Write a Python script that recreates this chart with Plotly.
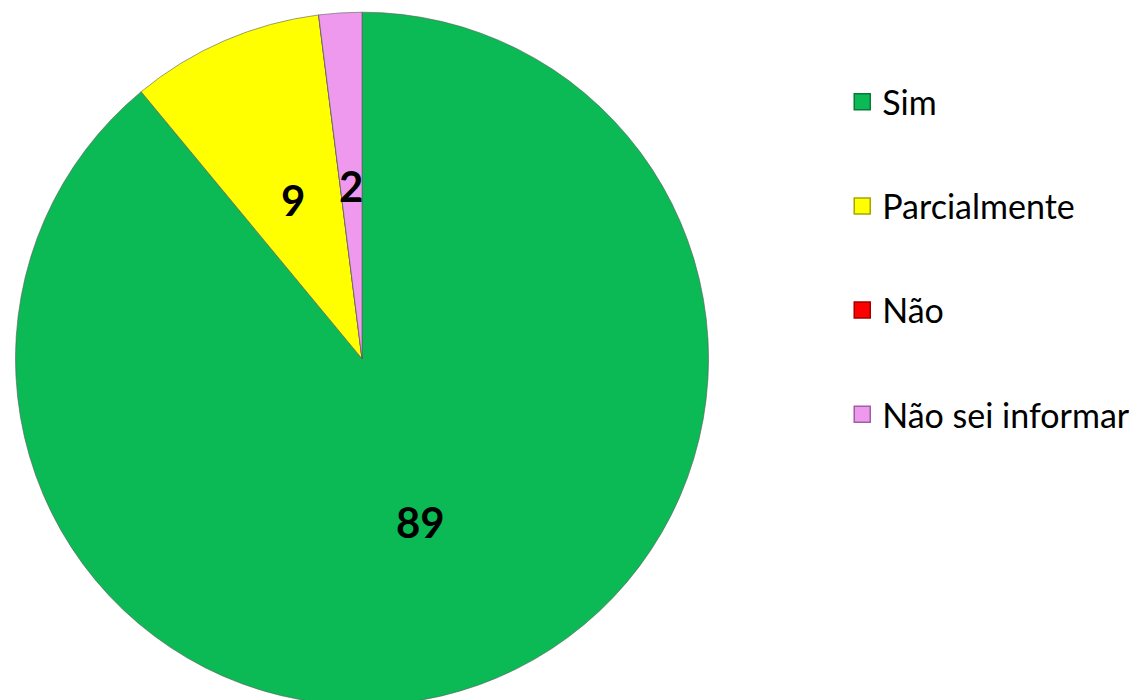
import math
import plotly.graph_objects as go

categories = ["Sim", "Parcialmente", "Não", "Não sei informar"]
values = [89, 9, 0, 2]
colors = ["#0BBA55", "#FFFF00", "#FF0000", "#EE99EE"]
border_colors = ["#087a3a", "#a6a600", "#a00000", "#a060a0"]

W, H = 1142, 700
dom_x = [0.006, 0.614]
dom_y = [0.004, 0.994]

fig = go.Figure()
fig.add_trace(go.Pie(
    labels=categories,
    values=values,
    textinfo="none",
    marker=dict(colors=colors, line=dict(color="rgba(90,90,90,0.6)", width=1)),
    sort=False,
    direction="clockwise",
    rotation=0,
    showlegend=False,
    hoverinfo="label+value",
    domain=dict(x=dom_x, y=dom_y),
))

# value labels placed at half radius along each slice's mid-angle
R = min((dom_x[1] - dom_x[0]) * W, (dom_y[1] - dom_y[0]) * H) / 2
cx = (dom_x[0] + dom_x[1]) / 2
cy = (dom_y[0] + dom_y[1]) / 2
total = sum(values)
cum = 0
for v in values:
    mid = (cum + v / 2) / total * 2 * math.pi
    cum += v
    if v <= 0:
        continue
    r = 0.5 * R
    fig.add_annotation(
        x=cx + r * math.sin(mid) / W, y=cy + r * math.cos(mid) / H,
        xref="paper", yref="paper", xanchor="center", yanchor="middle",
        showarrow=False, text=str(v),
        font=dict(family="Lato, Open Sans, sans-serif", size=42, color="black", weight="bold"),
    )

for i, (cat, col, bc) in enumerate(zip(categories, colors, border_colors)):
    fig.add_trace(go.Scatter(
        x=[None], y=[None], mode="markers", name=cat,
        legendgroup=f"g{i}",
        marker=dict(symbol="square", size=16, color=col, line=dict(color=bc, width=1.5)),
        showlegend=True,
    ))

fig.update_layout(
    width=W, height=H,
    margin=dict(l=0, r=0, t=0, b=0),
    paper_bgcolor="white", plot_bgcolor="white",
    xaxis=dict(visible=False), yaxis=dict(visible=False),
    legend=dict(
        x=0.7305, y=0.907, xanchor="left", yanchor="top",
        font=dict(family="Lato, Open Sans, sans-serif", size=34, color="black"),
        tracegroupgap=57, itemwidth=30,
        bgcolor="rgba(0,0,0,0)",
    ),
)

fig.write_html("out.html")
